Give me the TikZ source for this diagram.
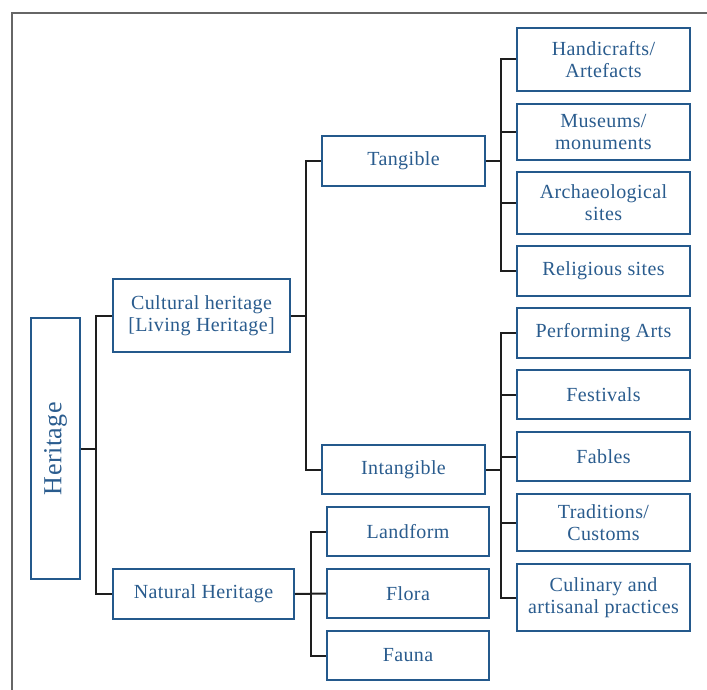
\documentclass[tikz,border=0pt]{standalone}
\usepackage{fontspec}
\setmainfont{Liberation Serif}[LetterSpace=2]
\definecolor{boxblue}{HTML}{24598C}
\definecolor{txtblue}{HTML}{2A5C8E}
\definecolor{linegray}{HTML}{1E1E1E}
\definecolor{framegray}{HTML}{666666}
\begin{document}
\begin{tikzpicture}[x=1pt,y=-1pt,
  hbox/.style={draw=boxblue, line width=2pt, text=txtblue, align=center,
    inner sep=0pt, font=\fontsize{20}{22}\selectfont, fill=white},
  conn/.style={draw=linegray, line width=2pt}]
\useasboundingbox (0,0) rectangle (707,690);
\draw[framegray, line width=1.5pt] (12,690) -- (12,13) -- (707,13);
% nodes
\node[hbox, minimum width=49pt, minimum height=261pt] (her) at (55.5,448.5)
  {\rotatebox{90}{\fontsize{26}{28}\selectfont Heritage}};
\node[hbox, minimum width=177pt, minimum height=73pt] (cult) at (201.5,315.5)
  {Cultural heritage\\\relax[Living Heritage]};
\node[hbox, minimum width=181pt, minimum height=50pt] (nat) at (203.5,594) {Natural Heritage};
\node[hbox, minimum width=163pt, minimum height=50pt] (tang) at (403.5,161) {Tangible};
\node[hbox, minimum width=163pt, minimum height=49pt] (intang) at (403.5,469.5) {Intangible};
\node[hbox, minimum width=173pt, minimum height=63pt] (hand) at (603.5,59.5) {Handicrafts/\\Artefacts};
\node[hbox, minimum width=173pt, minimum height=56pt] (mus) at (603.5,132) {Museums/\\monuments};
\node[hbox, minimum width=173pt, minimum height=62pt] (arch) at (603.5,203) {Archaeological\\sites};
\node[hbox, minimum width=173pt, minimum height=50pt] (rel) at (603.5,271) {Religious sites};
\node[hbox, minimum width=173pt, minimum height=50pt] (perf) at (603.5,333) {Performing Arts};
\node[hbox, minimum width=173pt, minimum height=49pt] (fest) at (603.5,394.5) {Festivals};
\node[hbox, minimum width=173pt, minimum height=49pt] (fab) at (603.5,456.5) {Fables};
\node[hbox, minimum width=173pt, minimum height=57pt] (trad) at (603.5,522.5) {Traditions/\\Customs};
\node[hbox, minimum width=173pt, minimum height=67pt] (cul) at (603.5,597.5) {Culinary and\\artisanal practices};
\node[hbox, minimum width=162pt, minimum height=49pt] (land) at (408,531.5) {Landform};
\node[hbox, minimum width=162pt, minimum height=49pt] (flora) at (408,593.5) {Flora};
\node[hbox, minimum width=162pt, minimum height=49pt] (fauna) at (408,655.5) {Fauna};
% spine coordinates
\coordinate (s1) at (96,448.5);
\coordinate (s2) at (306,315.5);
\coordinate (s3) at (501,161);
\coordinate (s4) at (501,469.5);
\coordinate (s5) at (311,593.5);
% connectors
\draw[conn] (her.east) -- (s1);
\draw[conn] (s1) |- (cult.west);
\draw[conn] (s1) |- (nat.west);
\draw[conn] (cult.east) -- (s2);
\draw[conn] (s2) |- (tang.west);
\draw[conn] (s2) |- (intang.west);
\draw[conn] (tang.east) -- (s3);
\foreach \n in {hand,mus,arch,rel} \draw[conn] (s3) |- (\n.west);
\draw[conn] (intang.east) -- (s4);
\foreach \n in {perf,fest,fab,trad,cul} \draw[conn] (s4) |- (\n.west);
\draw[conn] (nat.east) -- (flora.west);
\draw[conn] (s5) |- (land.west);
\draw[conn] (s5) |- (fauna.west);
\end{tikzpicture}
\end{document}
